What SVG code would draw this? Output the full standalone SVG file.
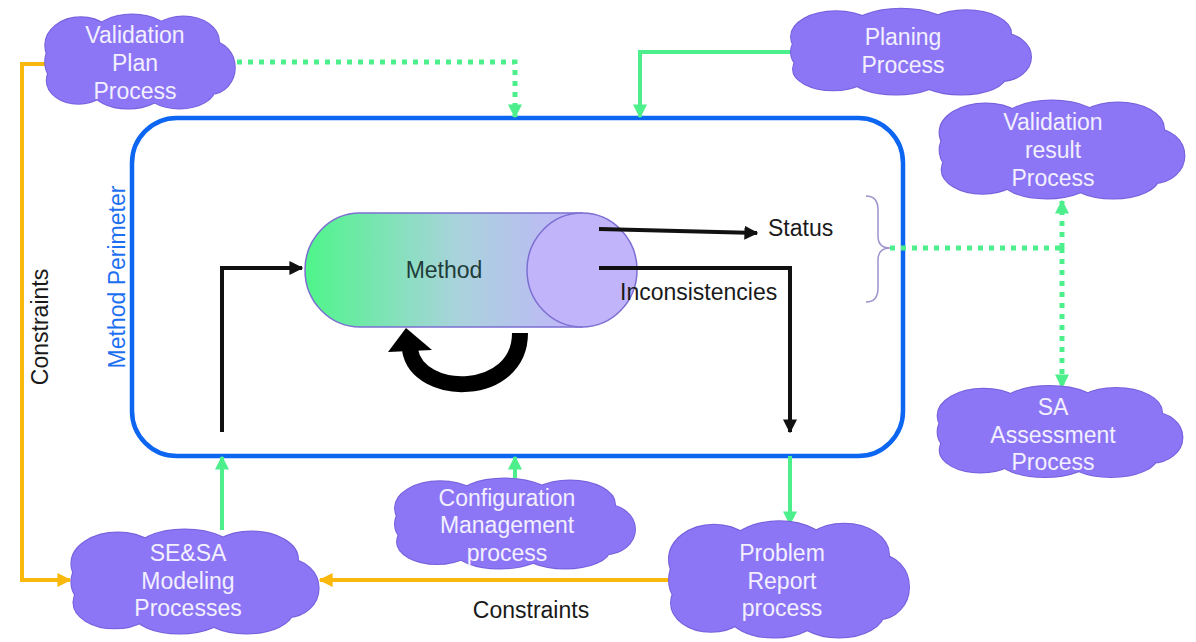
<svg xmlns="http://www.w3.org/2000/svg" xmlns:xlink="http://www.w3.org/1999/xlink" width="1196" height="642" viewBox="0 0 1196 642">
  <style>
    .cloud-text { font-family: "Liberation Sans", Arial, sans-serif; font-size: 23px; fill: #f2efff; text-anchor: middle; }
    .label { font-family: "Liberation Sans", Arial, sans-serif; font-size: 23px; fill: #1a1a1a; }
    .green { stroke: #4cef8b; stroke-width: 4; fill: none; }
    .green-dot { stroke: #4cef8b; stroke-width: 5; fill: none; stroke-dasharray: 5 6; }
    .orange { stroke: #f8b80c; stroke-width: 4; fill: none; }
    .black { stroke: #111; stroke-width: 4; fill: none; }
  </style>
  <defs>
    <!-- cloud outline: stroked ellipses underneath, filled ellipses on top leave only the outer edge -->
    <symbol id="cloud" viewBox="-120 -52 240 104" overflow="visible">
      <g fill="none" stroke="#7660dc" stroke-width="2">
        <ellipse cx="-75" cy="-18" rx="45" ry="30" vector-effect="non-scaling-stroke"/>
        <ellipse cx="-10" cy="-27" rx="50" ry="24" vector-effect="non-scaling-stroke"/>
        <ellipse cx="55" cy="-22" rx="45" ry="27" vector-effect="non-scaling-stroke"/>
        <ellipse cx="90" cy="6" rx="30" ry="28" vector-effect="non-scaling-stroke"/>
        <ellipse cx="50" cy="28" rx="45" ry="22" vector-effect="non-scaling-stroke"/>
        <ellipse cx="-15" cy="30" rx="45" ry="20" vector-effect="non-scaling-stroke"/>
        <ellipse cx="-78" cy="20" rx="40" ry="25" vector-effect="non-scaling-stroke"/>
        <ellipse cx="-100" cy="0" rx="20" ry="22" vector-effect="non-scaling-stroke"/>
      </g>
      <g fill="#8d76f6">
        <ellipse cx="-75" cy="-18" rx="45" ry="30"/>
        <ellipse cx="-10" cy="-27" rx="50" ry="24"/>
        <ellipse cx="55" cy="-22" rx="45" ry="27"/>
        <ellipse cx="90" cy="6" rx="30" ry="28"/>
        <ellipse cx="50" cy="28" rx="45" ry="22"/>
        <ellipse cx="-15" cy="30" rx="45" ry="20"/>
        <ellipse cx="-78" cy="20" rx="40" ry="25"/>
        <ellipse cx="-100" cy="0" rx="20" ry="22"/>
        <ellipse cx="0" cy="0" rx="90" ry="36"/>
      </g>
    </symbol>
    <linearGradient id="methodFill" x1="0" y1="0" x2="1" y2="0">
      <stop offset="0" stop-color="#4ef58a"/>
      <stop offset="0.55" stop-color="#a9d3dc"/>
      <stop offset="1" stop-color="#c2b4fb"/>
    </linearGradient>
    <marker id="arrGreen" viewBox="0 0 10 10" refX="9" refY="5" markerWidth="14" markerHeight="14" markerUnits="userSpaceOnUse" orient="auto">
      <path d="M0,0 L10,5 L0,10 Z" fill="#4cef8b"/>
    </marker>
    <marker id="arrOrange" viewBox="0 0 10 10" refX="9" refY="5" markerWidth="14" markerHeight="14" markerUnits="userSpaceOnUse" orient="auto">
      <path d="M0,0 L10,5 L0,10 Z" fill="#f8b80c"/>
    </marker>
    <marker id="arrBlack" viewBox="0 0 10 10" refX="9" refY="5" markerWidth="14" markerHeight="14" markerUnits="userSpaceOnUse" orient="auto">
      <path d="M0,0 L10,5 L0,10 Z" fill="#111"/>
    </marker>
  </defs>

  <rect width="1196" height="642" fill="#ffffff"/>

  <!-- method perimeter -->
  <g id="perimeter">
    <rect x="132" y="118" width="771" height="338" rx="45" fill="none" stroke="#0d66f2" stroke-width="4.5"/>
    <text x="125" y="277" transform="rotate(-90 125 277)" font-family="Liberation Sans, Arial, sans-serif" font-size="23" fill="#1d6ff2" text-anchor="middle">Method Perimeter</text>
  </g>

  <!-- method cylinder -->
  <g id="method">
    <path d="M582,213 L360,213 A55,57 0 0 0 360,327 L582,327 Z" fill="url(#methodFill)" stroke="#7b6fd2" stroke-width="1.5"/>
    <ellipse cx="582" cy="270" rx="55" ry="57" fill="#c2b4fb" stroke="#7b6fd2" stroke-width="1.5"/>
    <text x="444" y="278" font-family="Liberation Sans, Arial, sans-serif" font-size="23" fill="#1f3d3a" text-anchor="middle">Method</text>
  </g>

  <!-- connectors -->
  <g id="connectors">
    <path class="orange" d="M46,64 L22,64 L22,580 L70,580" marker-end="url(#arrOrange)"/>
    <path class="orange" d="M668,580 L320,580" marker-end="url(#arrOrange)"/>
    <path class="green-dot" d="M237,62 L515,62 L515,117" marker-end="url(#arrGreen)"/>
    <path class="green" d="M792,52 L640,52 L640,117" marker-end="url(#arrGreen)"/>
    <path class="green" d="M222,530 L222,457" marker-end="url(#arrGreen)"/>
    <path class="green" d="M515,478 L515,457" marker-end="url(#arrGreen)"/>
    <path class="green" d="M790,456 L790,524" marker-end="url(#arrGreen)"/>
    <path class="green-dot" d="M890,248 L1062,248"/>
    <path class="green-dot" d="M1062,248 L1062,201" marker-end="url(#arrGreen)"/>
    <path class="green-dot" d="M1062,248 L1062,387" marker-end="url(#arrGreen)"/>
    <path d="M866,196 Q878,196 878,210 L878,236 Q878,248 890,248 Q878,248 878,260 L878,288 Q878,302 866,302" fill="none" stroke="#9d92cc" stroke-width="1.5"/>
    <path class="black" d="M222,432 L222,268 L302,268" marker-end="url(#arrBlack)"/>
    <path class="black" d="M599,229 L757,233" marker-end="url(#arrBlack)"/>
    <path class="black" d="M599,268 L790,268 L790,432" marker-end="url(#arrBlack)"/>
    <path d="M520,333 C520,398 418,398 410,350" fill="none" stroke="#000" stroke-width="16"/>
    <polygon points="406,328 388,352 432,350" fill="#000"/>
  </g>

  <g id="status-label"><text class="label" x="768" y="236">Status</text></g>
  <g id="inconsistencies-label"><text class="label" x="620" y="300">Inconsistencies</text></g>
  <g id="constraints-left"><text class="label" x="48" y="327" transform="rotate(-90 48 327)" text-anchor="middle">Constraints</text></g>
  <g id="constraints-bottom"><text class="label" x="531" y="618" text-anchor="middle">Constraints</text></g>

  <g id="validation-plan">
    <use xlink:href="#cloud" x="-120" y="-52" width="240" height="104" transform="translate(140,62) scale(0.79,0.93)"/>
    <text class="cloud-text" x="135" y="43">Validation</text>
    <text class="cloud-text" x="135" y="71">Plan</text>
    <text class="cloud-text" x="135" y="99">Process</text>
  </g>

  <g id="planing">
    <use xlink:href="#cloud" x="-120" y="-52" width="240" height="104" transform="translate(911,52) scale(1.0,0.85)"/>
    <text class="cloud-text" x="903" y="45">Planing</text>
    <text class="cloud-text" x="903" y="73">Process</text>
  </g>

  <g id="validation-result">
    <use xlink:href="#cloud" x="-120" y="-52" width="240" height="104" transform="translate(1062,150) scale(1.02,0.97)"/>
    <text class="cloud-text" x="1053" y="130">Validation</text>
    <text class="cloud-text" x="1053" y="158">result</text>
    <text class="cloud-text" x="1053" y="186">Process</text>
  </g>

  <g id="sa-assessment">
    <use xlink:href="#cloud" x="-120" y="-52" width="240" height="104" transform="translate(1060,432) scale(1.02,0.9)"/>
    <text class="cloud-text" x="1053" y="415">SA</text>
    <text class="cloud-text" x="1053" y="443">Assessment</text>
    <text class="cloud-text" x="1053" y="470">Process</text>
  </g>

  <g id="configuration">
    <use xlink:href="#cloud" x="-120" y="-52" width="240" height="104" transform="translate(515,524) scale(1.0,0.89)"/>
    <text class="cloud-text" x="507" y="506">Configuration</text>
    <text class="cloud-text" x="507" y="533">Management</text>
    <text class="cloud-text" x="507" y="561">process</text>
  </g>

  <g id="se-sa-modeling">
    <use xlink:href="#cloud" x="-120" y="-52" width="240" height="104" transform="translate(195,582) scale(1.03,1.03)"/>
    <text class="cloud-text" x="188" y="561">SE&amp;SA</text>
    <text class="cloud-text" x="188" y="589">Modeling</text>
    <text class="cloud-text" x="188" y="616">Processes</text>
  </g>

  <g id="problem-report">
    <use xlink:href="#cloud" x="-120" y="-52" width="240" height="104" transform="translate(789,580) scale(1.0,1.15)"/>
    <text class="cloud-text" x="782" y="561">Problem</text>
    <text class="cloud-text" x="782" y="589">Report</text>
    <text class="cloud-text" x="782" y="616">process</text>
  </g>
</svg>
